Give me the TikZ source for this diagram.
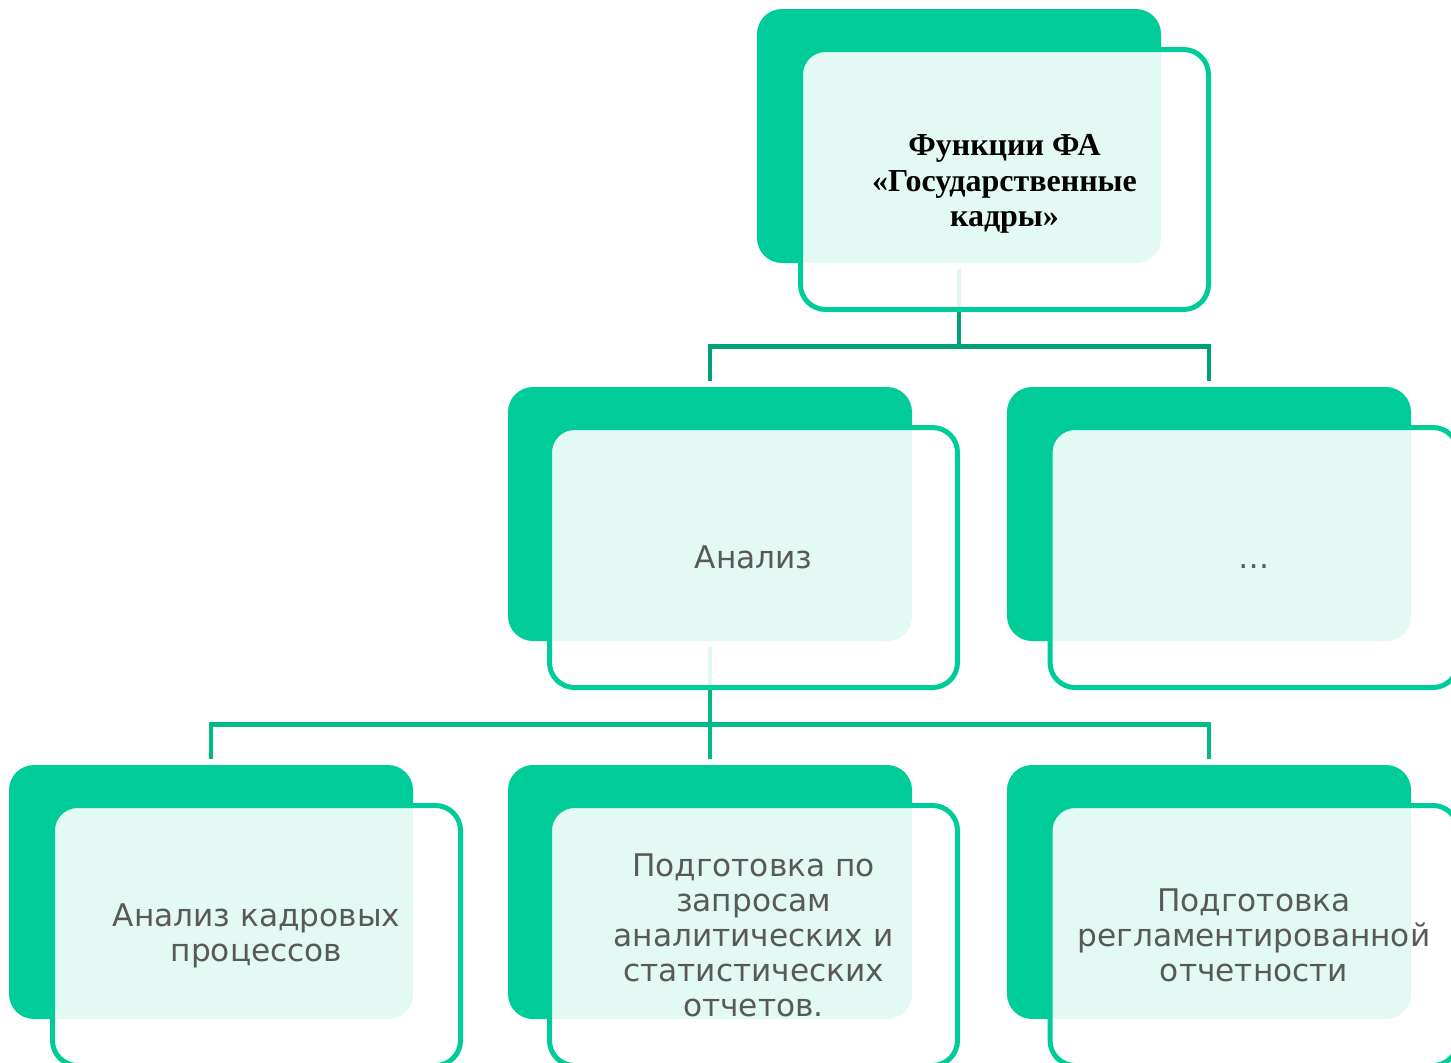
\documentclass[tikz,border=0pt]{standalone}
\usepackage{fontspec}
\newfontfamily\vsans{DejaVu Sans}
\newfontfamily\tserif{Liberation Serif}
\definecolor{gmain}{HTML}{00CC99}
\definecolor{gconnA}{HTML}{00A078}
\definecolor{gconnB}{HTML}{00BA88}
\definecolor{tgray}{HTML}{595959}
\tikzset{
  backbox/.style={fill=gmain, draw=none, rounded corners=12.5pt, minimum width=202pt, minimum height=127pt, inner sep=0pt},
  frontbox/.style={fill=white, fill opacity=0.89, text opacity=1, draw=gmain, draw opacity=1, line width=2.5pt, rounded corners=12.5pt, minimum width=204pt, minimum height=130pt, inner sep=0pt, align=center, text=tgray, font=\vsans\fontsize{15.6}{17.5}\selectfont},
  connA/.style={draw=gconnA, line width=2.4pt},
  connB/.style={draw=gconnB, line width=2.4pt}
}
\begin{document}
\begin{tikzpicture}[x=0.5pt, y=-0.5pt]
\clip (0,0) rectangle (1451,1062);
\fill[white] (0,0) rectangle (1451,1062);
% back boxes
\node[backbox] (b0) at (959,136) {};
\node[backbox] (b1) at (710,514) {};
\node[backbox] (b2) at (1209,514) {};
\node[backbox] (b3) at (211,892) {};
\node[backbox] (b4) at (710,892) {};
\node[backbox] (b5) at (1209,892) {};
% connectors
\draw[connA] ([yshift=-3pt]b0.south) -- ++(0,77) coordinate (h0);
\draw[connA] (h0) -| ([yshift=3pt]b1.north);
\draw[connA] (h0) -| ([yshift=3pt]b2.north);
\draw[connB] ([yshift=-3pt]b1.south) -- ++(0,77) coordinate (h1);
\draw[connB] (h1) -| ([yshift=3pt]b3.north);
\draw[connB] (h1) -| ([yshift=3pt]b4.north);
\draw[connB] (h1) -| ([yshift=3pt]b5.north);
% front boxes
\node[frontbox, text=black, font=\tserif\bfseries\fontsize{16}{17.75}\selectfont] (f0) at (1004.5,179.5) {\rule{0pt}{4pt}\\[-6.5pt]Функции ФА\\«Государственные\\кадры»};
\node[frontbox] (f1) at (753.5,557.5) {Анализ};
\node[frontbox] (f2) at (1254,557.5) {\vphantom{А}…};
\node[frontbox] (f3) at (256.5,935.5) {Анализ кадровых\\процессов};
\node[frontbox] (f4) at (753.5,935.5) {Подготовка по\\запросам\\аналитических и\\статистических\\отчетов.};
\node[frontbox] (f5) at (1254,935.5) {Подготовка\\регламентированной\\отчетности};
\end{tikzpicture}
\end{document}
